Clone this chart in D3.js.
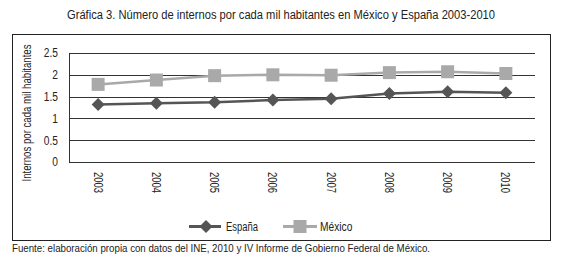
<!DOCTYPE html>
<html>
<head>
<meta charset="utf-8">
<script src="https://cdn.jsdelivr.net/npm/d3@7"></script>
<style>
  body { margin: 0; background: #fff; }
  text { font-family: "Liberation Sans", Arial, sans-serif; fill: #222; }
</style>
</head>
<body>
<script>
const w = 564;
const h = 267;

// Data
const years = ["2003", "2004", "2005", "2006", "2007", "2008", "2009", "2010"];
const espana = [1.32, 1.35, 1.37, 1.42, 1.45, 1.57, 1.61, 1.59];
const mexico = [1.78, 1.88, 1.98, 2.00, 1.99, 2.05, 2.07, 2.03];
const yTicks = [0, 0.5, 1, 1.5, 2, 2.5];

const plot = { left: 69, right: 535, top: 53, bottom: 162 };

const svg = d3.select("body")
    .append("svg")
    .attr("width", w)
    .attr("height", h);

// squeeze text horizontally to mimic the narrow face of the original
function squeeze(sel, factor, fixed) {
    sel.each(function () {
        const len = fixed || this.getComputedTextLength() * factor;
        d3.select(this)
            .attr("textLength", len)
            .attr("lengthAdjust", "spacingAndGlyphs");
    });
}

// Title
svg.append("text")
    .attr("x", 281)
    .attr("y", 19)
    .attr("text-anchor", "middle")
    .style("font-size", "12.5px")
    .text("Gráfica 3. Número de internos por cada mil habitantes en México y España 2003-2010")
    .call(squeeze, 0, 428);

// Outer frame
svg.append("rect")
    .attr("x", 12.5)
    .attr("y", 34.5)
    .attr("width", 538)
    .attr("height", 206)
    .attr("fill", "none")
    .attr("stroke", "#222")
    .attr("stroke-width", 1);

// Scales
const xScale = d3.scaleBand()
    .domain(years)
    .range([plot.left, plot.right]);

const yScale = d3.scaleLinear()
    .domain([0, 2.5])
    .range([plot.bottom, plot.top]);

const cx = d => xScale(d) + xScale.bandwidth() / 2;

// Gridlines
svg.append("g")
    .selectAll("line")
    .data(yTicks)
    .enter()
    .append("line")
    .attr("x1", plot.left)
    .attr("x2", plot.right)
    .attr("y1", d => Math.round(yScale(d)) + 0.5)
    .attr("y2", d => Math.round(yScale(d)) + 0.5)
    .attr("stroke", "#333")
    .attr("stroke-width", 1);

// Left axis line
svg.append("line")
    .attr("x1", plot.left + 0.5)
    .attr("x2", plot.left + 0.5)
    .attr("y1", Math.round(yScale(2.5)) + 0.5)
    .attr("y2", Math.round(yScale(0)) + 0.5)
    .attr("stroke", "#333");

// Y axis labels
const yAxis = d3.axisLeft(yScale)
    .tickValues(yTicks)
    .tickSize(0)
    .tickPadding(11)
    .tickFormat(d => String(d));

svg.append("g")
    .attr("class", "y-axis")
    .attr("transform", `translate(${plot.left},0)`)
    .call(yAxis)
    .call(g => g.select(".domain").remove())
    .call(g => g.selectAll("text")
        .style("font-size", "12px")
        .style("font-family", null)
        .attr("fill", "#222")
        .call(squeeze, 0.85));

// Y title
svg.append("text")
    .attr("transform", `translate(31,113) rotate(-90)`)
    .attr("text-anchor", "middle")
    .style("font-size", "12px")
    .text("Internos por cada mil habitantes")
    .call(squeeze, 0, 137);

// X tick labels, rotated to read top-down
svg.append("g")
    .selectAll("text")
    .data(years)
    .enter()
    .append("text")
    .attr("transform", d => `translate(${cx(d) - 4.5},172) rotate(90)`)
    .attr("text-anchor", "start")
    .style("font-size", "12px")
    .text(d => d)
    .call(squeeze, 0, 21);

// Lines
const line = d3.line()
    .x((d, i) => cx(years[i]))
    .y(d => yScale(d));

svg.append("path")
    .datum(mexico)
    .attr("fill", "none")
    .attr("stroke", "#a9a9a9")
    .attr("stroke-width", 2.5)
    .attr("d", line);

svg.append("path")
    .datum(espana)
    .attr("fill", "none")
    .attr("stroke", "#555")
    .attr("stroke-width", 2.5)
    .attr("d", line);

// Markers
svg.selectAll(".sq")
    .data(mexico)
    .enter()
    .append("rect")
    .attr("class", "sq")
    .attr("x", (d, i) => cx(years[i]) - 6.5)
    .attr("y", d => yScale(d) - 6.5)
    .attr("width", 13)
    .attr("height", 13)
    .attr("fill", "#a9a9a9");

const diamond = (x, y, r) => `M${x},${y - r}L${x + r},${y}L${x},${y + r}L${x - r},${y}Z`;

svg.selectAll(".dm")
    .data(espana)
    .enter()
    .append("path")
    .attr("class", "dm")
    .attr("d", (d, i) => diamond(cx(years[i]), yScale(d), 6.5))
    .attr("fill", "#555");

// Legend
const legY = 226.5;
const leg = svg.append("g");

leg.append("line")
    .attr("x1", 189).attr("x2", 221)
    .attr("y1", legY).attr("y2", legY)
    .attr("stroke", "#555").attr("stroke-width", 3);
leg.append("path")
    .attr("d", diamond(206, legY, 6.5))
    .attr("fill", "#555");
leg.append("text")
    .attr("x", 226)
    .attr("y", legY + 4)
    .style("font-size", "12px")
    .text("España")
    .call(squeeze, 0, 32);

leg.append("line")
    .attr("x1", 283).attr("x2", 317)
    .attr("y1", legY).attr("y2", legY)
    .attr("stroke", "#a9a9a9").attr("stroke-width", 3);
leg.append("rect")
    .attr("x", 293.5).attr("y", legY - 6.5)
    .attr("width", 13).attr("height", 13)
    .attr("fill", "#a9a9a9");
leg.append("text")
    .attr("x", 320)
    .attr("y", legY + 4)
    .style("font-size", "12px")
    .text("México")
    .call(squeeze, 0.85);

// Source note
svg.append("text")
    .attr("x", 12)
    .attr("y", 252)
    .style("font-size", "10.5px")
    .text("Fuente: elaboración propia con datos del INE, 2010 y IV Informe de Gobierno Federal de México.")
    .call(squeeze, 0, 418);
</script>
</body>
</html>
